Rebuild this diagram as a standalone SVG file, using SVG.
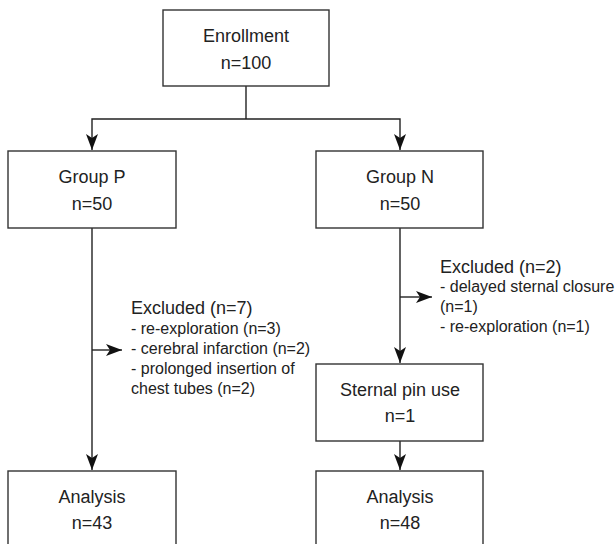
<svg xmlns="http://www.w3.org/2000/svg" width="616" height="544" viewBox="0 0 616 544">
<style>
.box{fill:#fff;stroke:#333;stroke-width:1.4}
.t{font-family:"Liberation Sans",Arial,Helvetica,sans-serif;font-size:18px;fill:#222;text-anchor:middle}
.h{font-family:"Liberation Sans",Arial,Helvetica,sans-serif;font-size:18px;fill:#222}
.s{font-family:"Liberation Sans",Arial,Helvetica,sans-serif;font-size:16px;fill:#222}
.c{fill:none;stroke:#222;stroke-width:1.4}
</style>
<defs>
<marker id="arr" viewBox="0 0 16 12" refX="16" refY="6" markerWidth="16" markerHeight="12" markerUnits="userSpaceOnUse" orient="auto">
<path d="M0,0 L16,6 L0,12 L4,6 Z" fill="#111"/>
</marker>
</defs>
<rect width="616" height="544" fill="#fff"/>
<g id="connectors">
<path class="c" d="M246,86 V119"/>
<path class="c" d="M246,119 H92 V150" marker-end="url(#arr)"/>
<path class="c" d="M246,119 H400 V150" marker-end="url(#arr)"/>
<path class="c" d="M92,228 V470" marker-end="url(#arr)"/>
<path class="c" d="M92,350 H122" marker-end="url(#arr)"/>
<path class="c" d="M400,228 V363" marker-end="url(#arr)"/>
<path class="c" d="M400,297 H432" marker-end="url(#arr)"/>
<path class="c" d="M400,441 V470" marker-end="url(#arr)"/>
</g>
<g id="enrollment">
<rect class="box" x="163" y="10" width="166" height="76"/>
<text class="t" x="246" y="42">Enrollment</text>
<text class="t" x="246" y="69">n=100</text>
</g>
<g id="groupP">
<rect class="box" x="8" y="151" width="168" height="77"/>
<text class="t" x="92" y="183">Group P</text>
<text class="t" x="92" y="210">n=50</text>
</g>
<g id="groupN">
<rect class="box" x="316" y="151" width="167" height="77"/>
<text class="t" x="400" y="183">Group N</text>
<text class="t" x="400" y="210">n=50</text>
</g>
<g id="excludedP">
<text class="h" x="131" y="314">Excluded (n=7)</text>
<text class="s" x="131" y="334">- re-exploration (n=3)</text>
<text class="s" x="131" y="354">- cerebral infarction (n=2)</text>
<text class="s" x="131" y="374">- prolonged insertion of</text>
<text class="s" x="131" y="394">chest tubes (n=2)</text>
</g>
<g id="excludedN">
<text class="h" x="440" y="273">Excluded (n=2)</text>
<text class="s" x="440" y="292">- delayed sternal closure</text>
<text class="s" x="440" y="312">(n=1)</text>
<text class="s" x="440" y="332">- re-exploration (n=1)</text>
</g>
<g id="sternalPin">
<rect class="box" x="316" y="364" width="167" height="77"/>
<text class="t" x="400" y="396">Sternal pin use</text>
<text class="t" x="400" y="422">n=1</text>
</g>
<g id="analysisP">
<rect class="box" x="8" y="471" width="168" height="80"/>
<text class="t" x="92" y="503">Analysis</text>
<text class="t" x="92" y="529">n=43</text>
</g>
<g id="analysisN">
<rect class="box" x="316" y="471" width="167" height="80"/>
<text class="t" x="400" y="503">Analysis</text>
<text class="t" x="400" y="529">n=48</text>
</g>
</svg>
